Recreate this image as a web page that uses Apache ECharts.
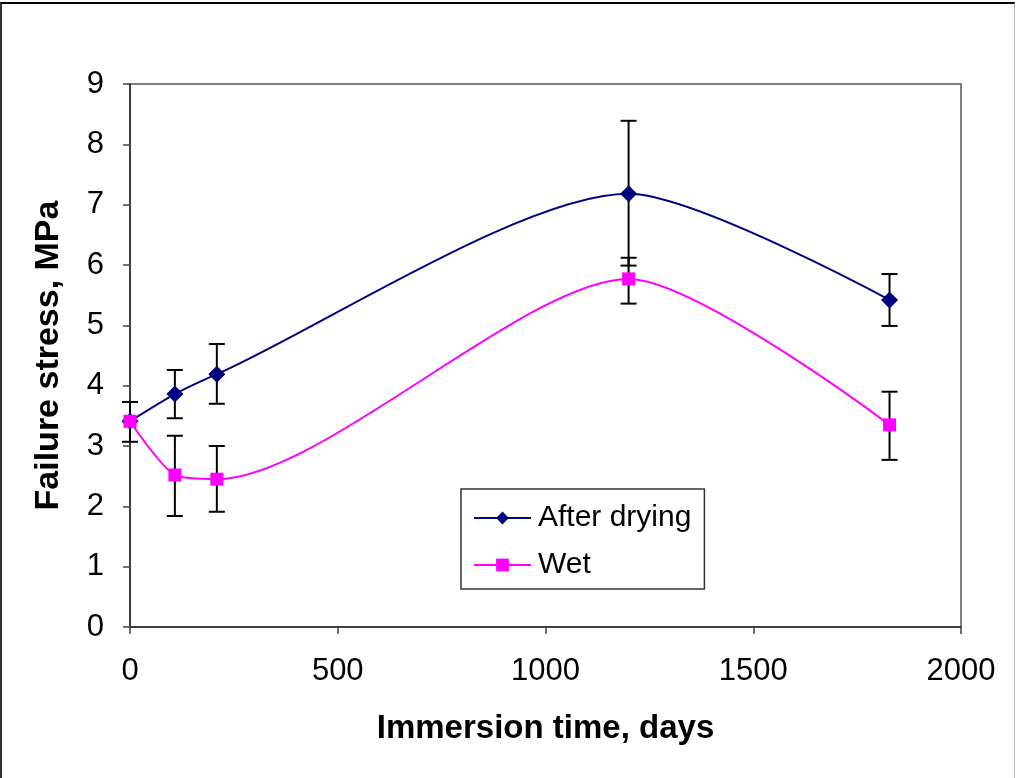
<!DOCTYPE html>
<html>
<head>
<meta charset="utf-8">
<script src="https://cdn.jsdelivr.net/npm/echarts@6/dist/echarts.min.js"></script>
<style>
html,body{margin:0;padding:0;background:#fff;overflow:hidden;}
#frame{position:absolute;left:0;top:2px;width:1012px;height:800px;border-left:2px solid #333;border-top:2px solid #000;border-right:1px solid #bbb;pointer-events:none;z-index:5;}
#chart{position:absolute;left:0;top:0;width:1016px;height:778px;}
</style>
</head>
<body>
<div id="chart"></div>
<div id="frame"></div>
<script>
// Data
const days = [0, 108, 209, 1200, 1828];
const afterDrying = [3.41, 3.86, 4.19, 7.18, 5.42];
const afterDryingLow = [3.07, 3.46, 3.70, 5.99, 4.99];
const afterDryingHigh = [3.73, 4.26, 4.69, 8.39, 5.85];
const wet = [3.41, 2.52, 2.45, 5.77, 3.35];
const wetLow = [null, 1.84, 1.91, 5.36, 2.77];
const wetHigh = [null, 3.17, 3.00, 6.12, 3.90];
const xTicks = [0, 500, 1000, 1500, 2000];
const yTicks = [0, 1, 2, 3, 4, 5, 6, 7, 8, 9];

const FONT = "'Liberation Sans', Arial, sans-serif";

function pairs(xs, ys) { return xs.map((x, i) => [x, ys[i]]); }
function errRows(xs, lo, hi) {
  const out = [];
  xs.forEach((x, i) => { if (lo[i] != null && hi[i] != null) out.push([x, lo[i], hi[i]]); });
  return out;
}

function renderErr(params, api) {
  const x = api.value(0), lo = api.value(1), hi = api.value(2);
  const t = api.coord([x, hi]), b = api.coord([x, lo]);
  const w = 8;
  const st = { stroke: '#000', lineWidth: 2 };
  return {
    type: 'group',
    children: [
      { type: 'line', shape: { x1: t[0], y1: t[1], x2: b[0], y2: b[1] }, style: st },
      { type: 'line', shape: { x1: t[0] - w, y1: t[1], x2: t[0] + w, y2: t[1] }, style: st },
      { type: 'line', shape: { x1: b[0] - w, y1: b[1], x2: b[0] + w, y2: b[1] }, style: st }
    ]
  };
}

const chart = echarts.init(document.getElementById('chart'), null, { renderer: 'canvas' });
chart.setOption({
  animation: false,
  backgroundColor: '#fff',
  textStyle: { fontFamily: FONT },
  grid: { left: 130, top: 84, right: 55, bottom: 151, show: true, borderColor: '#808080', borderWidth: 2, backgroundColor: 'transparent' },
  legend: {
    data: ['After drying', 'Wet'],
    orient: 'vertical',
    left: 461, top: 489,
    padding: [14, 13, 9, 12],
    itemGap: 17,
    itemWidth: 57,
    itemHeight: 16,
    borderColor: '#333', borderWidth: 1.5,
    backgroundColor: '#fff',
    textStyle: { fontFamily: FONT, fontSize: 30, color: '#000', padding: [0, 0, 0, 2] }
  },
  xAxis: {
    type: 'value', min: 0, max: 2000, interval: 500,
    name: 'Immersion time, days', nameLocation: 'middle', nameGap: 85,
    nameTextStyle: { fontFamily: FONT, fontSize: 33, fontWeight: 'bold', color: '#000' },
    axisLine: { show: true, onZero: false, lineStyle: { color: '#404040', width: 2 } },
    axisTick: { show: true, inside: false, length: 7, lineStyle: { color: '#404040', width: 1.5 } },
    axisLabel: { fontFamily: FONT, fontSize: 31, color: '#000', margin: 29,
      formatter: v => xTicks.includes(v) ? String(v) : '' },
    splitLine: { show: false }
  },
  yAxis: {
    type: 'value', min: 0, max: 9, interval: 1,
    name: 'Failure stress, MPa', nameLocation: 'middle', nameGap: 64, nameRotate: 90,
    nameTextStyle: { fontFamily: FONT, fontSize: 34, fontWeight: 'bold', color: '#000' },
    axisLine: { show: true, lineStyle: { color: '#404040', width: 2 } },
    axisTick: { show: true, inside: false, length: 7, lineStyle: { color: '#404040', width: 1.5 } },
    axisLabel: { fontFamily: FONT, fontSize: 31, color: '#000', margin: 26,
      formatter: v => yTicks.includes(v) ? String(v) : '' },
    splitLine: { show: false }
  },
  series: [
    {
      type: 'custom', name: 'errDry', renderItem: renderErr, clip: false, z: 1,
      encode: { x: 0, y: [1, 2] },
      data: errRows(days, afterDryingLow, afterDryingHigh)
    },
    {
      type: 'custom', name: 'errWet', renderItem: renderErr, clip: false, z: 1,
      encode: { x: 0, y: [1, 2] },
      data: errRows(days, wetLow, wetHigh)
    },
    {
      name: 'After drying', type: 'line', smooth: 0.25, z: 3,
      data: pairs(days, afterDrying),
      symbol: 'diamond', symbolSize: 17,
      lineStyle: { color: '#000080', width: 2 },
      itemStyle: { color: '#000080' },
      color: '#000080'
    },
    {
      name: 'Wet', type: 'line', smooth: 0.25, z: 4,
      data: pairs(days, wet),
      symbol: 'rect', symbolSize: 13,
      lineStyle: { color: '#FF00FF', width: 2 },
      itemStyle: { color: '#FF00FF' },
      color: '#FF00FF'
    }
  ]
});
</script>
</body>
</html>
